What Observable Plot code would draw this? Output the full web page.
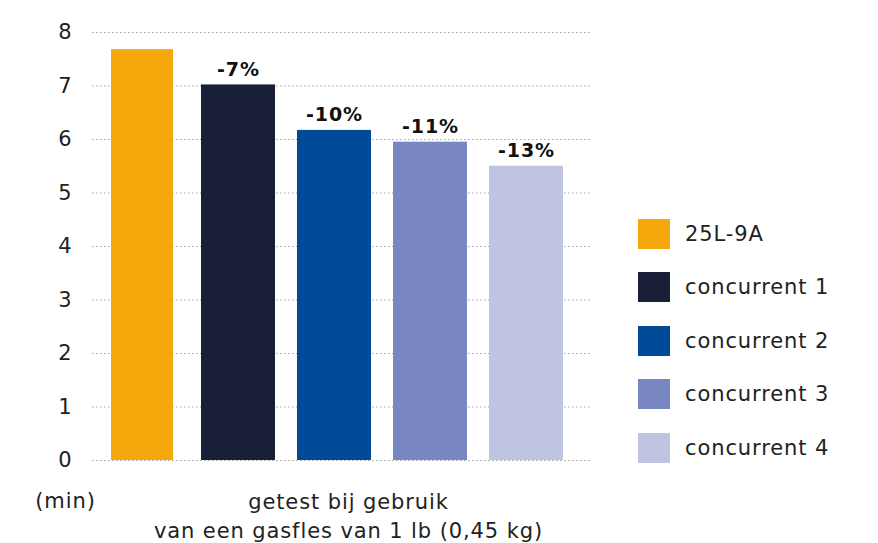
<!DOCTYPE html>
<html><head><meta charset="utf-8">
<script src="https://cdn.jsdelivr.net/npm/d3@7"></script>
<script src="https://cdn.jsdelivr.net/npm/@observablehq/plot@0.6"></script>
<style>
body{margin:0;background:#fff;font-family:"DejaVu Sans",sans-serif;}
#wrap{position:relative;width:878px;height:543px;}
#wrap svg text{letter-spacing:0.9px;}
#legend{position:absolute;left:638px;top:207px;}
.row{display:flex;align-items:center;height:53.5px;}
.sw{width:32px;height:30px;margin-right:15px;}
.lb{font-size:21px;color:#222;letter-spacing:0.9px;}
</style></head><body><div id="wrap"></div>
<script>
const categories = ["25L-9A","concurrent 1","concurrent 2","concurrent 3","concurrent 4"];
const minutes = [7.68, 7.02, 6.17, 5.95, 5.50];
const changeLabels = ["", "-7%", "-10%", "-11%", "-13%"];
const colors = ["#F6A70B","#1A1F38","#004A98","#7886C2","#C0C4E3"];
const yTicks = [0,1,2,3,4,5,6,7,8];
const unitLabel = "(min)";
const noteLines = "getest bij gebruik\nvan een gasfles van 1 lb (0,45 kg)";

const data = categories.map((c, i) => ({cat: c, value: minutes[i], label: changeLabels[i]}));

const plot = Plot.plot({
  width: 878,
  height: 543,
  marginLeft: 92,
  marginRight: 286,
  marginTop: 32,
  marginBottom: 83,
  style: {fontFamily: "'DejaVu Sans', sans-serif", fontSize: "20px", color: "#222", background: "#fff"},
  x: {domain: categories, paddingInner: 0.233, paddingOuter: 0.207, align: 0.3, axis: null},
  y: {domain: [0, 8], axis: null},
  color: {domain: categories, range: colors},
  marks: [
    Plot.gridY(yTicks, {stroke: "#999", strokeOpacity: 0.9, strokeDasharray: "1.5,2.5"}),
    Plot.axisY(yTicks, {tickSize: 0, tickPadding: 20, tickFormat: "d", fontSize: 21, fill: "#222", label: null}),
    Plot.barY(data.filter((d, i) => i === 0), {x: "cat", y: "value", fill: "cat", insetLeft: 6, insetRight: 6}),
    Plot.barY(data.filter((d, i) => i > 0), {x: "cat", y: "value", fill: "cat"}),
    Plot.text(data.filter(d => d.label), {x: "cat", y: "value", text: "label", lineAnchor: "bottom", dy: -9, fontWeight: "bold", fontSize: 19, fill: "#111"}),
    Plot.text([unitLabel], {frameAnchor: "bottom-left", dx: -27, dy: 41, lineAnchor: "middle", textAnchor: "middle", fontSize: 21, fill: "#222"}),
    Plot.text([noteLines], {frameAnchor: "bottom", dx: 6, dy: 54, lineAnchor: "middle", lineHeight: 1.38, fontSize: 21, fill: "#222"})
  ]
});
const wrap = document.getElementById("wrap");
wrap.appendChild(plot);

const legend = document.createElement("div");
legend.id = "legend";
categories.forEach((c, i) => {
  const row = document.createElement("div");
  row.className = "row";
  const sw = document.createElement("div");
  sw.className = "sw";
  sw.style.background = colors[i];
  const lb = document.createElement("span");
  lb.className = "lb";
  lb.textContent = c;
  row.appendChild(sw); row.appendChild(lb);
  legend.appendChild(row);
});
wrap.appendChild(legend);
</script></body></html>
